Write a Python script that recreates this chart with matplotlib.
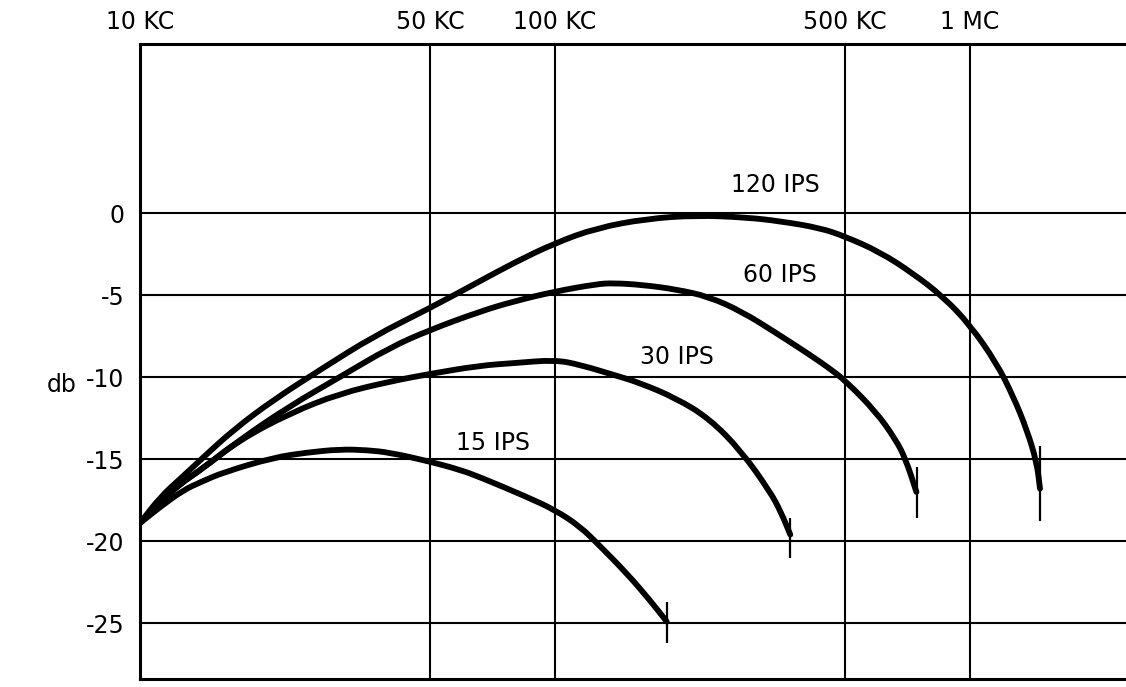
import matplotlib
matplotlib.use("Agg")
import matplotlib.pyplot as plt
from matplotlib.path import Path
from matplotlib.patches import PathPatch
from matplotlib.ticker import NullLocator

# ----- data (freq in KC, level in db) -----
F_15 = [10, 11.2, 12.7, 14.0, 15.9, 21.0, 25.2, 30.3, 35.2, 40.0, 50, 59, 66, 85.5, 100, 114.9,
        128.4, 148.8, 169.4, 185.9]
DB_15 = [-18.9, -17.9, -16.9, -16.4, -15.8, -14.9, -14.6, -14.4, -14.45, -14.6, -15.15, -15.65,
         -16.1, -17.3, -18.1, -19.1, -20.3, -21.95, -23.6, -24.9]

F_30 = [10, 11.2, 12.5, 14.0, 17.4, 23, 30.3, 40, 50, 65.9, 79.4, 100, 114.9, 140, 160, 195.5,
        235, 281, 329.6, 350, 369]
DB_30 = [-18.9, -17.6, -16.5, -15.66, -13.82, -12.2, -11.0, -10.27, -9.8, -9.3, -9.15, -8.95,
         -9.25, -9.9, -10.35, -11.28, -12.51, -14.5, -16.97, -18.2, -19.6]

F_60 = [10, 11.2, 12.5, 14.0, 17.4, 23, 30.3, 40, 50, 66, 79.4, 100, 126.2, 138.2, 162.4, 195.5,
        235, 283, 340.6, 409, 457.5, 500, 593, 662, 700, 743]
DB_60 = [-18.9, -17.6, -16.5, -15.66, -13.82, -11.75, -10.0, -8.2, -7.12, -6.0, -5.39, -4.78,
         -4.33, -4.27, -4.38, -4.65, -5.1, -6.03, -7.3, -8.6, -9.45, -10.2, -12.1, -13.8,
         -15.0, -17.0]

F_120 = [10, 11.2, 12.5, 14.0, 16.8, 21.0, 27.2, 36.5, 50, 66, 79.4, 100, 126.2, 166.2, 219.5,
         289.6, 348.7, 435, 500, 607, 730, 862, 1000, 1159, 1271, 1370, 1449, 1475]
DB_120 = [-18.9, -17.3, -16.2, -15.04, -13.21, -11.38, -9.55, -7.52, -5.79, -4.15, -3.05, -1.83,
          -0.91, -0.35, -0.14, -0.27, -0.5, -0.91, -1.43, -2.38, -3.69, -5.11, -6.82, -9.15,
          -11.17, -13.18, -15.2, -16.8]

CURVES = [(F_15, DB_15), (F_30, DB_30), (F_60, DB_60), (F_120, DB_120)]

# end markers: (freq, db low, db high)
END_F = [186, 369, 745, 1478]
END_LO = [-26.2, -21.0, -18.6, -18.8]
END_HI = [-23.7, -18.6, -15.5, -14.2]

LABELS = ["15 IPS", "30 IPS", "60 IPS", "120 IPS"]
LABEL_F = [71, 197, 348, 339]
LABEL_DB = [-14.0, -8.8, -3.8, 1.7]

X_TICKS = [10, 50, 100, 500, 1000]
X_TICKLABELS = ["10 KC", "50 KC", "100 KC", "500 KC", "1 MC"]
Y_TICKS = [0, -5, -10, -15, -20, -25]
Y_TICKLABELS = ["0", "-5", "-10", "-15", "-20", "-25"]

FS = 17


def smooth_path(f, d):
    # quadratic bezier through segment midpoints; x midpoints taken in log space
    verts = [(f[0], d[0])]
    codes = [Path.MOVETO]
    mid = lambda i: ((f[i] * f[i + 1]) ** 0.5, (d[i] + d[i + 1]) / 2)
    verts.append(mid(0)); codes.append(Path.LINETO)
    for i in range(1, len(f) - 1):
        verts += [(f[i], d[i]), mid(i)]
        codes += [Path.CURVE3, Path.CURVE3]
    verts.append((f[-1], d[-1])); codes.append(Path.LINETO)
    return Path(verts, codes)


fig = plt.figure(figsize=(11.26, 6.87), dpi=100)
ax = fig.add_axes([140 / 1126, 1 - 679 / 687, (1126 - 140) / 1126, (679 - 44) / 687])

ax.set_xscale("log")
ax.set_xlim(10, 2377)
ax.set_ylim(-28.4, 10.3)

ax.xaxis.tick_top()
ax.set_xticks(X_TICKS)
ax.set_xticklabels(X_TICKLABELS)
ax.xaxis.set_minor_locator(NullLocator())
ax.set_yticks(Y_TICKS)
ax.set_yticklabels(Y_TICKLABELS)
ax.tick_params(axis="both", length=0, labelsize=FS)
ax.tick_params(axis="x", pad=7)
ax.tick_params(axis="y", pad=11)

for f in X_TICKS[1:]:
    ax.axvline(f, color="black", lw=1.5, zorder=1)
for d in Y_TICKS:
    ax.axhline(d, color="black", lw=1.5, zorder=1)

for s in ("left", "top", "bottom"):
    ax.spines[s].set_linewidth(2.2)
ax.spines["right"].set_visible(False)

for f, d in CURVES:
    ax.add_patch(PathPatch(smooth_path(f, d), fill=False, edgecolor="black", lw=4.2,
                           capstyle="round", joinstyle="round", zorder=3))

ax.vlines(END_F, END_LO, END_HI, color="black", lw=1.6, zorder=3)

for lab, f, d in zip(LABELS, LABEL_F, LABEL_DB):
    ax.text(f, d, lab, ha="center", va="center", fontsize=FS, zorder=4)

fig.text(62 / 1126, 1 - 385 / 687, "db", ha="center", va="center", fontsize=FS)

fig.savefig("out.png", dpi=100, facecolor="white")
